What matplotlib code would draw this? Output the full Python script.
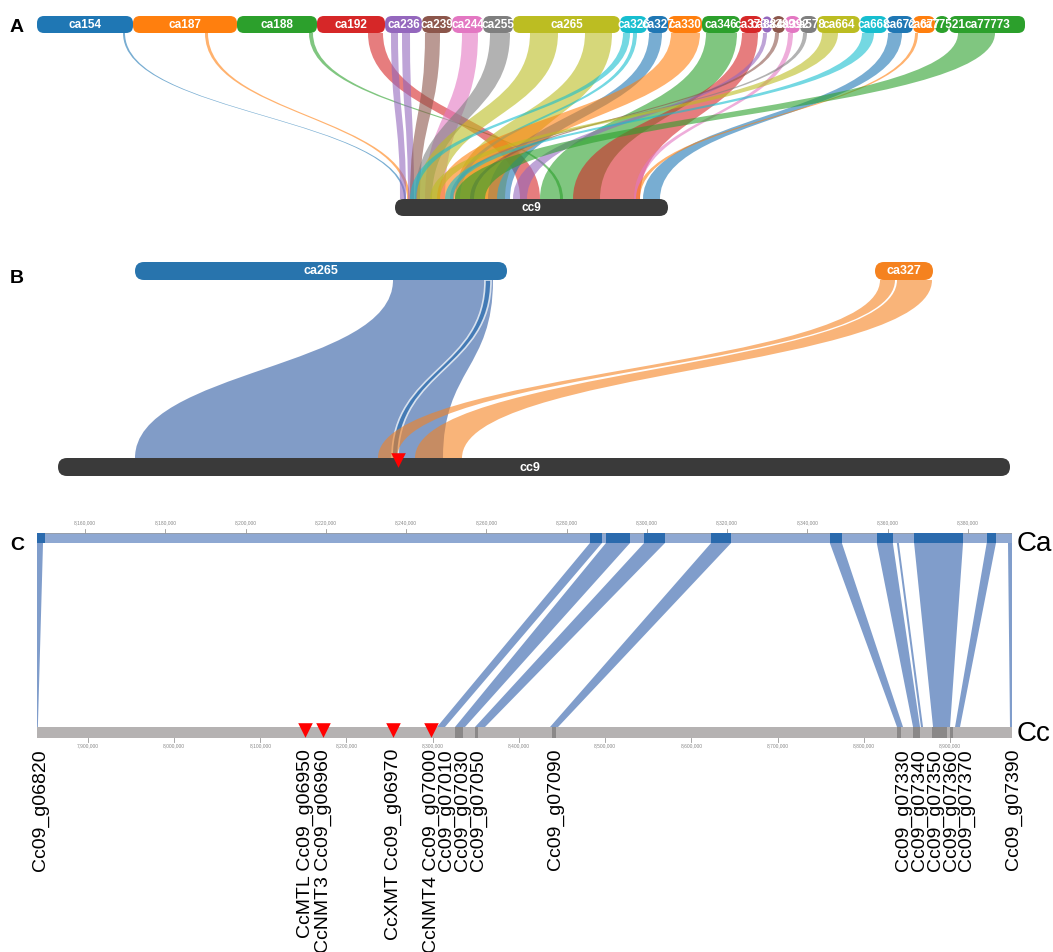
import numpy as np
import matplotlib
matplotlib.use("Agg")
import matplotlib.pyplot as plt
from matplotlib.path import Path
from matplotlib.patches import PathPatch, FancyBboxPatch, Polygon

plt.rcParams["font.family"] = ["Liberation Sans", "DejaVu Sans"]

# ---------------- Panel A data ----------------
ca_names = ["ca154", "ca187", "ca188", "ca192", "ca236", "ca239", "ca244", "ca255",
            "ca265", "ca326", "ca327", "ca330", "ca346", "ca373", "ca384", "ca389",
            "ca392", "ca578", "ca664", "ca668", "ca672", "ca677", "ca77521", "ca77773"]
ca_lens = [96, 104, 80, 68, 37, 30, 31, 30, 107, 27, 21, 34, 38, 22, 10, 13,
           15, 17, 43, 27, 26, 22, 14, 76]
cc9_len_a = 273

# (contig, src start, src end, cc9 start, cc9 end)
links_a = [
    ("ca154", 86, 88, 9, 11),
    ("ca187", 72, 75, 12, 15),
    ("ca188", 72, 76, 165, 168),
    ("ca192", 51, 66, 125, 145),
    ("ca236", 6, 13, 5, 11),
    ("ca236", 17, 25, 13, 19),
    ("ca239", 3, 18, 15, 25),
    ("ca244", 10, 26, 30, 50),
    ("ca255", 7, 27, 20, 37),
    ("ca265", 17, 45, 22, 45),
    ("ca265", 72, 99, 60, 110),
    ("ca326", 3, 10, 15, 21),
    ("ca326", 13, 17, 60, 65),
    ("ca327", 2, 15, 93, 115),
    ("ca330", 3, 32, 42, 102),
    ("ca346", 4, 35, 145, 205),
    ("ca373", 2, 18, 178, 245),
    ("ca384", 1, 5, 118, 132),
    ("ca389", 3, 7, 75, 79),
    ("ca392", 3, 8, 239, 244),
    ("ca578", 3, 7, 55, 59),
    ("ca664", 5, 21, 35, 45),
    ("ca668", 2, 14, 50, 58),
    ("ca672", 1, 15, 248, 265),
    ("ca677", 2, 5, 241, 245),
    ("ca77773", 9, 46, 60, 90),
]

# ---------------- Panel B data ----------------
b_ca265_len = 372
b_ca327_len = 58
b_cc9_len = 952
links_b = [
    ("ca265", 258, 358, 77, 385, "#4c72b0", 0.7),
    ("ca265", 350, 356, 334, 340, "#2f6fb0", 0.75),
    ("ca327", 5, 20, 320, 339, "#f58220", 0.6),
    ("ca327", 22, 57, 357, 404, "#f58220", 0.6),
]
b_marker = 340

# ---------------- Panel C data ----------------
cc_range = (7_841_000, 8_972_000)
ca_range = (8_148_000, 8_391_000)
ca_ticks = np.arange(8_160_000, 8_380_001, 20_000)
cc_ticks = np.arange(7_900_000, 8_900_001, 100_000)

ca_blocks = [(8_148_000, 8_150_000), (8_285_800, 8_288_800), (8_289_800, 8_295_800),
             (8_299_300, 8_304_500), (8_316_000, 8_321_000), (8_345_600, 8_348_600),
             (8_357_300, 8_361_300), (8_366_600, 8_378_800), (8_384_700, 8_387_000)]
cc_blocks = [(8_325_900, 8_335_000), (8_348_900, 8_352_400), (8_438_200, 8_442_800),
             (8_838_400, 8_843_000), (8_857_000, 8_865_100), (8_879_000, 8_896_400),
             (8_899_900, 8_903_400)]

# (Ca start, Ca end, Cc start, Cc end)
links_c = [
    (8_148_000, 8_149_500, 7_841_000, 7_842_000),
    (8_285_800, 8_288_800, 8_305_000, 8_314_300),
    (8_289_800, 8_295_800, 8_325_900, 8_337_500),
    (8_299_300, 8_304_500, 8_349_100, 8_360_700),
    (8_316_000, 8_321_000, 8_436_100, 8_445_400),
    (8_345_600, 8_348_600, 8_838_600, 8_845_600),
    (8_357_300, 8_361_300, 8_857_200, 8_865_300),
    (8_362_300, 8_362_800, 8_866_400, 8_868_800),
    (8_366_600, 8_378_800, 8_880_400, 8_900_100),
    (8_384_700, 8_387_000, 8_905_900, 8_911_700),
    (8_390_000, 8_391_000, 8_970_000, 8_972_000),
]

marked_genes = [8_151_900, 8_172_800, 8_254_000, 8_298_000]
gene_pos = [7_844_500, 8_151_900, 8_172_800, 8_254_000, 8_298_000, 8_315_400,
            8_334_000, 8_352_600, 8_441_900, 8_845_600, 8_864_100, 8_882_700,
            8_901_200, 8_918_600, 8_973_200]
gene_labels = ["Cc09_g06820", "CcMTL Cc09_g06950", "CcNMT3 Cc09_g06960",
               "CcXMT Cc09_g06970", "CcNMT4 Cc09_g07000", "Cc09_g07010",
               "Cc09_g07030", "Cc09_g07050", "Cc09_g07090", "Cc09_g07330",
               "Cc09_g07340", "Cc09_g07350", "Cc09_g07360", "Cc09_g07370",
               "Cc09_g07390"]


def ribbon(ax, a0, a1, b0, b1, yt, yb, **kw):
    ym = (yt + yb) / 2
    verts = [(a0, yt), (a0, ym), (b0, ym), (b0, yb), (b1, yb),
             (b1, ym), (a1, ym), (a1, yt), (a0, yt)]
    codes = [Path.MOVETO, Path.CURVE4, Path.CURVE4, Path.CURVE4, Path.LINETO,
             Path.CURVE4, Path.CURVE4, Path.CURVE4, Path.CLOSEPOLY]
    ax.add_patch(PathPatch(Path(verts, codes), **kw))


def pill(ax, x, y, w, h, color, label=None, fs=8.5, r=None):
    r = h / 2 if r is None else r
    ax.add_patch(FancyBboxPatch((x, y), w, h, boxstyle=f"round,pad=0,rounding_size={r}",
                                fc=color, ec="none", zorder=3))
    if label:
        ax.text(x + w / 2, y + h / 2 + 0.5, label, color="white", fontsize=fs,
                fontweight="bold", ha="center", va="center", zorder=4)


fig = plt.figure(figsize=(10.53, 9.52), dpi=100)
W, H = 1053, 952

# ---------------- Panels A and B ----------------
ax = fig.add_axes([0, 1 - 490 / H, 1, 490 / H])
ax.set_xlim(0, W)
ax.set_ylim(490, 0)
ax.axis("off")

tab = plt.get_cmap("tab10").colors
ca_colors = [tab[i % 10] for i in range(len(ca_names))]
ca_colors[-1] = tab[2]
ca_start = 37 + np.concatenate([[0], np.cumsum(ca_lens)[:-1]])
starts = dict(zip(ca_names, ca_start))
colors = dict(zip(ca_names, ca_colors))

cc9_x = 395
for name, s0, s1, t0, t1 in links_a:
    ribbon(ax, starts[name] + s0, starts[name] + s1, cc9_x + t0, cc9_x + t1, 33, 199,
           fc=colors[name], ec="none", alpha=0.6, zorder=1)

for name, x0, w, c in zip(ca_names, ca_start, ca_lens, ca_colors):
    pill(ax, x0, 16, w, 17, c, r=7)
for name, x0, w in zip(ca_names, ca_start, ca_lens):
    ax.text(x0 + w / 2, 25, name, color="white", fontsize=8.5, fontweight="bold",
            ha="center", va="center", zorder=4)
pill(ax, cc9_x, 199, cc9_len_a, 17, "#3a3a3a", "cc9")

# panel B
b_starts = {"ca265": 135, "ca327": 875}
b_cc9 = 58
for name, s0, s1, t0, t1, c, a in links_b:
    lw = 1.2 if s1 - s0 < 10 and name == "ca265" else 0
    ribbon(ax, b_starts[name] + s0, b_starts[name] + s1, b_cc9 + t0, b_cc9 + t1, 280, 458,
           fc=c, ec="white", lw=lw, alpha=a, zorder=1)
pill(ax, b_starts["ca265"], 262, b_ca265_len, 18, "#2874ad", "ca265", fs=9)
pill(ax, b_starts["ca327"], 262, b_ca327_len, 18, "#f5821f", "ca327", fs=9)
pill(ax, b_cc9, 458, b_cc9_len, 18, "#3a3a3a")
ax.text(b_cc9 + 472, 468, "cc9", color="white", fontsize=9, fontweight="bold",
        ha="center", va="center", zorder=4)
ax.scatter([b_cc9 + b_marker], [460], marker="v", s=110, color="red", lw=0, zorder=5)

# ---------------- Panel C ----------------
axc = fig.add_axes([37 / W, 0, 975 / W, 462 / H])
axc.set_xlim(*cc_range)
axc.set_ylim(952, 490)
axc.axis("off")


def ca_x(v):
    v = np.asarray(v, dtype=float)
    return cc_range[0] + (v - ca_range[0]) / (ca_range[1] - ca_range[0]) * (cc_range[1] - cc_range[0])


span = cc_range[1] - cc_range[0]
axc.barh(538, span, left=cc_range[0], height=10, color="#8ea8d2", zorder=2)
axc.plot(cc_range, [533, 533], color="#9a9a9a", lw=0.5, zorder=3)
for a0, a1 in ca_blocks:
    axc.barh(538, ca_x(a1) - ca_x(a0), left=ca_x(a0), height=10, color="#2a6aad", zorder=3)
axc.barh(732.5, span, left=cc_range[0], height=11, color="#b5b2b2", zorder=2)
for b0, b1 in cc_blocks:
    axc.barh(732.5, b1 - b0, left=b0, height=11, color="#8a8888", zorder=3)

for a0, a1, b0, b1 in links_c:
    axc.add_patch(Polygon([(ca_x(a0), 543), (ca_x(a1), 543), (b1, 727), (b0, 727)],
                          closed=True, fc="#4a74b6", ec="none", alpha=0.7, zorder=1))

for t in ca_ticks:
    axc.plot([ca_x(t)] * 2, [529, 533], color="#999999", lw=0.6)
    axc.text(ca_x(t), 525, f"{t:,}", fontsize=3.5, color="#888888", ha="center", va="bottom")
for t in cc_ticks:
    axc.plot([t, t], [738, 742], color="#999999", lw=0.6)
    axc.text(t, 743, f"{t:,}", fontsize=3.5, color="#888888", ha="center", va="top")

axc.text(cc_range[1] + 5000, 544, "Ca", fontsize=20, ha="left", va="center", clip_on=False)
axc.text(cc_range[1] + 5000, 734, "Cc", fontsize=20, ha="left", va="center", clip_on=False)

axc.scatter(marked_genes, [730] * len(marked_genes), marker="v", s=110, color="red",
            lw=0, zorder=5)
for x, lab in zip(gene_pos, gene_labels):
    axc.text(x, 749, lab, rotation=90, fontsize=14, ha="center", va="top", clip_on=False)

for lab, y in [("A", 27), ("B", 278), ("C", 545)]:
    fig.text(10 / W, 1 - y / H, lab, fontsize=14, fontweight="bold", ha="left", va="center")

fig.savefig("out.png", dpi=100)
